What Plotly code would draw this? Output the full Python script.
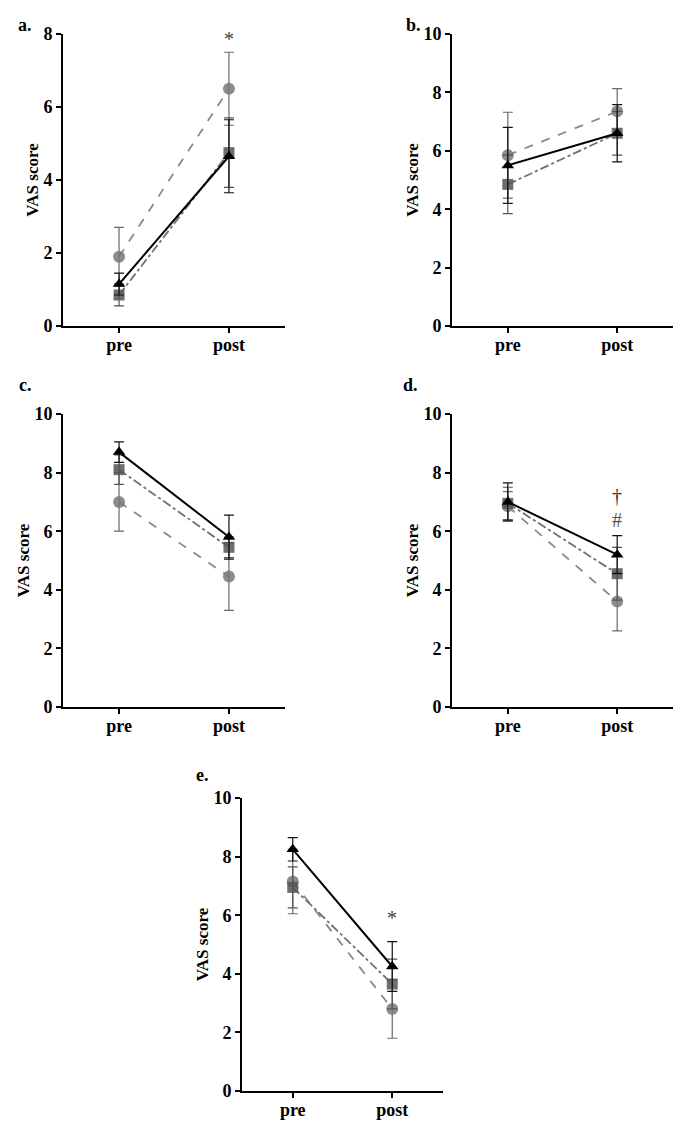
import plotly.graph_objects as go

stages = ["pre", "post"]
panel_labels = ["a.", "b.", "c.", "d.", "e."]
y_max = [8, 10, 10, 10, 10]
y_ticks = [[0, 2, 4, 6, 8], [0, 2, 4, 6, 8, 10], [0, 2, 4, 6, 8, 10],
           [0, 2, 4, 6, 8, 10], [0, 2, 4, 6, 8, 10]]

# Group "circle" (gray, dashed)
circle_mean = [[1.9, 6.5], [5.85, 7.35], [7.0, 4.45], [6.85, 3.6], [7.15, 2.8]]
circle_err = [[0.8, 1.0], [1.47, 0.78], [1.0, 1.15], [0.5, 1.0], [1.1, 1.0]]
# Group "square" (dark gray, dash-dot)
square_mean = [[0.85, 4.75], [4.85, 6.6], [8.1, 5.45], [6.95, 4.55], [6.95, 3.65]]
square_err = [[0.3, 0.95], [1.0, 0.75], [0.5, 0.35], [0.55, 0.9], [0.7, 0.85]]
# Group "triangle" (black, solid)
tri_mean = [[1.15, 4.65], [5.5, 6.6], [8.7, 5.8], [7.0, 5.2], [8.25, 4.25]]
tri_err = [[0.3, 1.0], [1.3, 0.98], [0.35, 0.75], [0.65, 0.65], [0.4, 0.85]]

# significance marks: (panel index, stage, value, text, colour)
sig_marks = [
    (0, "post", 7.86, "*", "#444444"),
    (3, "post", 7.19, "†", "#333333"),
    (3, "post", 6.39, "#", "#555555"),
    (4, "post", 5.89, "*", "#444444"),
]

W, H = 690, 1131
OFF = 8  # page body margin
# pixel boxes on page: (x_left, x_right, y_bottom, y_top)
boxes = [
    (63, 285, 326, 34),
    (452, 673, 326, 34),
    (63, 285, 707, 414),
    (452, 673, 707, 414),
    (242, 443, 1091, 798),
]
label_pos = [(25, 25), (413, 25), (25, 385), (410, 385), (203, 775)]


def fx(px):
    return (px - OFF) / W


def fy(py):
    return 1 - (py - OFF) / H


FONT = "Liberation Serif"
fig = go.Figure()

styles = [
    ("circle", circle_mean, circle_err, "rgba(120,120,120,0.85)", "#8a8a8a", "dash", "#6a6a6a", 12),
    ("square", square_mean, square_err, "rgba(85,85,85,0.85)", "#707070", "dashdot", "#555555", 11),
    ("triangle-up", tri_mean, tri_err, "#000000", "#000000", "solid", "#111111", 11),
]

for i in range(5):
    ax = "" if i == 0 else str(i + 1)
    for sym, means, errs, mcol, lcol, dash, ecol, msize in styles:
        fig.add_trace(go.Scatter(
            x=stages, y=means[i],
            mode="lines+markers",
            line=dict(color=lcol, width=2 if sym == "triangle-up" else 1.8, dash=dash),
            marker=dict(symbol=sym, size=msize, color=mcol, line=dict(width=0)),
            error_y=dict(type="data", array=errs[i], visible=True,
                         color=ecol, thickness=1.2, width=5),
            xaxis="x" + ax, yaxis="y" + ax, showlegend=False, hoverinfo="skip",
        ))
    xl, xr, yb, yt = boxes[i]
    fig.layout["xaxis" + ax] = dict(
        domain=[fx(xl), fx(xr)], anchor="y" + ax, automargin=False,
        type="category", range=[-0.51, 1.51],
        showline=True, linecolor="black", linewidth=2,
        ticks="outside", ticklen=5, tickwidth=1.5, tickcolor="black",
        ticklabelstandoff=-4,
        showgrid=False, zeroline=False,
        tickfont=dict(family=FONT, size=18, color="black", weight="bold"),
        fixedrange=True,
    )
    fig.layout["yaxis" + ax] = dict(
        domain=[fy(yb), fy(yt)], anchor="x" + ax, automargin=False,
        range=[0, y_max[i]], tickvals=y_ticks[i],
        showline=True, linecolor="black", linewidth=2,
        ticks="outside", ticklen=5, tickwidth=1.5, tickcolor="black",
        showgrid=False, zeroline=False,
        tickfont=dict(family=FONT, size=18, color="black", weight="bold"),
        title=dict(text="VAS score", standoff=0,
                   font=dict(family=FONT, size=17, color="black", weight="bold")),
        fixedrange=True,
    )
    lx, ly = label_pos[i]
    fig.add_annotation(x=fx(lx), y=fy(ly), xref="paper", yref="paper",
                       xanchor="center", yanchor="middle",
                       text="<b>" + panel_labels[i] + "</b>", showarrow=False,
                       font=dict(family=FONT, size=18, color="black"))

for pi, st, val, txt, col in sig_marks:
    ax = "" if pi == 0 else str(pi + 1)
    fig.add_annotation(x=st, y=val, xref="x" + ax, yref="y" + ax, text=txt,
                       xanchor="center", yanchor="middle",
                       showarrow=False, font=dict(family=FONT, size=20, color=col))

fig.update_layout(width=W, height=H, margin=dict(l=0, r=0, t=0, b=0, autoexpand=False),
                  template="none", paper_bgcolor="white", plot_bgcolor="white")
fig.write_html("out.html")
